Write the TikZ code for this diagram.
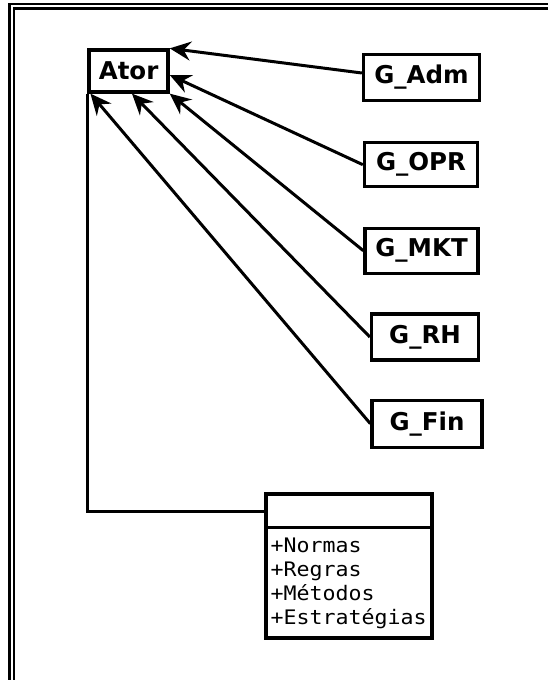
\documentclass[tikz,border=0pt]{standalone}
\usepackage{fontspec}
\usetikzlibrary{arrows.meta}
\newfontfamily\lblfont{DejaVu Sans}
\newfontfamily\attrfont[FakeStretch=1.08]{DejaVu Sans Mono}

\begin{document}
\begin{tikzpicture}[x=1pt,y=-1pt,
  box/.style={draw, line width=3.3pt, inner sep=0pt, anchor=center,
              font=\lblfont\bfseries\fontsize{24.5}{28}\selectfont},
  gen/.style={line width=3pt, -{Stealth[length=21pt,width=19pt,inset=7pt]}},
  link/.style={line width=3pt},
  frameline/.style={line width=2.6pt},
  attr/.style={anchor=base west, inner sep=0pt,
               font=\attrfont\fontsize{20}{24}\selectfont}]
\useasboundingbox (0,0) rectangle (548,680);

% double page frame
\draw[frameline] (9.5,690) -- (9.5,4) -- (560,4);
\draw[frameline] (14,690) -- (14,8.5) -- (560,8.5);

% class boxes
\node[box, minimum width=79pt, minimum height=42pt] (ator) at (128.6,71) {Ator};
\node[box, minimum width=116pt, minimum height=46pt] (gadm) at (421.5,77.5) {G\_Adm};
\node[box, minimum width=113pt, minimum height=44pt] (gopr) at (421,164.7) {G\_OPR};
\node[box, minimum width=113pt, minimum height=45pt] (gmkt) at (421.5,250.7) {G\_MKT};
\node[box, minimum width=107pt, minimum height=46pt] (grh) at (425,337) {G\_RH};
\node[box, minimum width=110pt, minimum height=47pt] (gfin) at (427,423.7) {G\_Fin};

% class with attribute compartment
\node[box, minimum width=166pt, minimum height=144pt] (cls) at (349,566) {};
\draw[link] ([yshift=-35pt]cls.north west) -- ([yshift=-35pt]cls.north east);
\node[attr] (attrA) at (270.5,552.5) {+Normas};
\node[attr] (attrB) at (270.5,576.5) {+Regras};
\node[attr] (attrC) at (270.5,600.5) {+Métodos};
\node[attr] (attrD) at (270.5,624.5) {+Estratégias};

% generalisation arrows
\draw[gen] ([yshift=4.5pt]gadm.west) -- (ator.north east);
\draw[gen] (gopr.west) -- ([yshift=-4pt]ator.east);
\draw[gen] (gmkt.west) -- (ator.south east);
\draw[gen] (grh.west) -- ([xshift=3.4pt]ator.south);
\draw[gen] (gfin.west) -- ([xshift=3pt]ator.south west);

% association to the attribute class
\coordinate (clsin) at (266,511);
\draw[link] (ator.south west) |- (clsin);
\end{tikzpicture}
\end{document}
